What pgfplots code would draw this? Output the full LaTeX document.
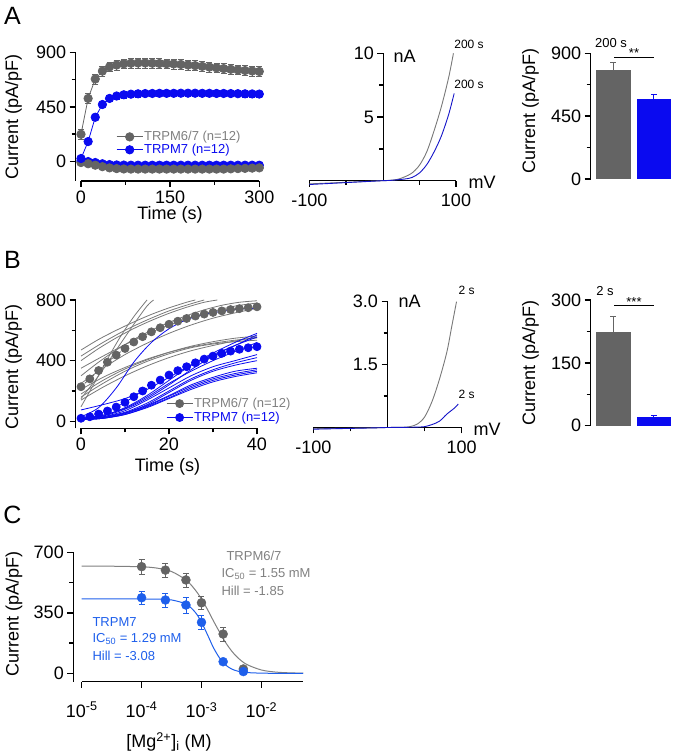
\documentclass[border=0pt]{standalone}
\usepackage{fontspec}
\setmainfont{Liberation Sans}
\usepackage{pgfplots}
\pgfplotsset{compat=1.18}
\usepackage{pgfplotstable}

\definecolor{dgray}{RGB}{100,100,100}
\definecolor{lgray}{RGB}{120,120,120}
\definecolor{tgray}{RGB}{128,128,128}
\definecolor{mblue}{RGB}{10,10,240}
\definecolor{ivblue}{RGB}{20,20,200}
\definecolor{cblue}{RGB}{30,95,235}
\newcommand{\fs}[1]{\fontsize{#1}{#1}\selectfont}

\pgfplotsset{
  prism/.style={
    scale only axis, anchor=south west,
    axis lines=left,
    axis line style={line width=1.5pt,-},
    every tick/.style={black,line width=1.5pt},
    major tick length=6pt, minor tick length=4pt,
    tick align=outside, tick pos=left,
    tick label style={font=\fs{18}},
    /pgf/number format/assume math mode=true,
    clip=false,
  },
  ebar/.style={/pgfplots/error bars/y dir=both, /pgfplots/error bars/y explicit,
    /pgfplots/error bars/error bar style={line width=0.6pt,#1},
    /pgfplots/error bars/error mark options={rotate=90,mark size=3pt,line width=0.6pt,#1}},
  legimg/.style={legend image code/.code={
    \draw[mark repeat=2,mark phase=2,##1,solid] plot coordinates {(0pt,0pt)(13pt,0pt)(26pt,0pt)};}},
}

% panel A, time course (t, current, sem)
\pgfplotstableread{
t v e
0 225 40
12 520 40
24 680 40
36 745 40
48 780 40
60 795 40
72 805 40
84 810 40
96 812 40
108 812 40
120 810 40
132 808 40
144 806 40
156 804 40
168 800 40
180 795 40
192 790 40
204 784 40
216 778 40
228 772 40
240 766 40
252 760 40
264 755 40
276 750 40
288 746 40
300 742 40
}\grayup
\pgfplotstableread{
t v e
0 25 10
12 165 20
24 365 25
36 470 25
48 520 25
60 540 25
72 550 25
84 555 25
96 558 25
108 560 25
120 561 25
132 562 25
144 562 25
156 562 25
168 563 25
180 563 25
192 563 25
204 562 25
216 562 25
228 561 25
240 561 25
252 560 25
264 559 25
276 558 25
288 557 25
300 556 25
}\blueup
\pgfplotstableread{
t v e
0 -8 6
12 -18 6
24 -30 8
36 -42 8
48 -52 8
60 -58 8
72 -61 8
84 -62 8
96 -62 8
108 -62 8
120 -62 8
132 -62 8
144 -62 8
156 -62 8
168 -62 8
180 -62 8
192 -62 8
204 -62 8
216 -62 8
228 -62 8
240 -62 8
252 -60 8
264 -58 8
276 -56 8
288 -54 8
300 -52 8
}\graydn
\pgfplotstableread{
t v e
0 5 5
12 0 5
24 -8 6
36 -18 6
48 -25 6
60 -28 6
72 -29 6
84 -30 6
96 -30 6
108 -30 6
120 -30 6
132 -30 6
144 -30 6
156 -30 6
168 -30 6
180 -30 6
192 -30 6
204 -30 6
216 -30 6
228 -30 6
240 -30 6
252 -30 6
264 -30 6
276 -30 6
288 -30 6
300 -30 6
}\bluedn

\begin{document}
\begin{tikzpicture}[x=1pt,y=1pt]
\path[use as bounding box] (0,0) rectangle (675,754);

% ---------------- A left
\begin{axis}[prism, at={(81pt,573pt)}, width=178.3pt, height=128.7pt,
  xmin=0, xmax=300, ymin=-160, ymax=900,
  xtick={0,150,300}, minor xtick={75,225},
  ytick={0,450,900}, minor ytick={225,675},
  axis y line shift=5.3pt, legimg, reverse legend,
  legend style={at={(0.18,0.41)}, anchor=north west, draw=none, fill=none,
    font=\fs{13}, row sep=0pt, nodes={inner sep=1pt}},
  legend cell align=left]
\addplot[mblue, line width=0.8pt, mark=*, mark size=4.2pt, ebar=mblue, forget plot]
  table[x=t,y=v,y error=e] {\bluedn};
\addplot[dgray, line width=0.8pt, mark=*, mark size=4.2pt, ebar=dgray, forget plot]
  table[x=t,y=v,y error=e] {\graydn};
\addplot[mblue, line width=0.8pt, mark=*, mark size=4.2pt, ebar=mblue]
  table[x=t,y=v,y error=e] {\blueup};
\addlegendentry[text=mblue]{TRPM7 (n=12)}
\addplot[dgray, line width=0.8pt, mark=*, mark size=4.2pt, ebar=dgray]
  table[x=t,y=v,y error=e] {\grayup};
\addlegendentry[text=tgray]{TRPM6/7 (n=12)}
\end{axis}

% ---------------- A middle (I-V), y axis moved to 0 mV
\begin{axis}[prism, at={(309.3pt,573.3pt)}, width=146.7pt, height=127.4pt,
  xmin=-100, xmax=100, ymin=0, ymax=10,
  axis y line shift=-74pt, xticklabel style={yshift=-4pt},
  xtick={-100,100}, minor xtick={-50,50},
  ytick={5,10}, minor ytick={2.5,7.5},
  xtick style={black,line width=1.5pt}, ytick style={black,line width=1.5pt}]
\addplot[lgray, line width=0.9pt, smooth] coordinates {
  (-100,-0.25)(-80,-0.2)(-60,-0.15)(-40,-0.1)(-20,-0.05)(0,0)(10,0.03)(20,0.1)
  (30,0.3)(40,0.6)(50,1.2)(60,2.25)(70,3.9)(80,5.8)(90,8.1)(96.5,10)};
\addplot[ivblue, line width=0.9pt, smooth] coordinates {
  (-100,-0.3)(-80,-0.24)(-60,-0.18)(-40,-0.12)(-20,-0.06)(0,0)(10,0.02)(20,0.07)
  (30,0.13)(40,0.25)(50,0.6)(60,1.25)(70,2.25)(80,3.5)(90,5.2)(97.5,6.85)};
\end{axis}

% ---------------- A right (bars)
\begin{axis}[prism, at={(590.7pt,575pt)}, width=81pt, height=125.7pt,
  axis x line=none, xmin=-0.557, xmax=1.438, ymin=0, ymax=900,
  xtick=\empty, ytick={0,450,900}, minor ytick={225,675}]
\addplot[ybar, bar width=34.7pt, bar shift=0pt, fill=dgray, draw=none,
  error bars/.cd, y dir=plus, y explicit, error bar style={dgray,line width=1pt},
  error mark options={rotate=90,mark size=3pt,dgray,line width=1pt}]
  coordinates {(0,780) +- (0,55)};
\addplot[ybar, bar width=34.7pt, bar shift=0pt, fill=mblue, draw=none,
  error bars/.cd, y dir=plus, y explicit, error bar style={mblue,line width=1pt},
  error mark options={rotate=90,mark size=3pt,mblue,line width=1pt}]
  coordinates {(1,570) +- (0,37)};
\end{axis}

% ---------------- B left
\begin{axis}[prism, at={(81pt,325.7pt)}, width=176pt, height=128.3pt,
  xmin=0, xmax=40, ymin=-46, ymax=800,
  xtick={0,20,40}, minor xtick={10,30},
  ytick={0,400,800}, minor ytick={200,600},
  axis y line shift=5.3pt, legimg,
  legend style={at={(0.466,0.26)}, anchor=north west, draw=none, fill=none,
    font=\fs{13}, row sep=1pt, nodes={inner sep=1pt}},
  legend cell align=left]
% individual TRPM6/7 cells
\addplot[lgray, line width=0.8pt, smooth, forget plot] coordinates {(0,470)(4,540)(8,600)(12,655)(16,705)(20,748)(24,785)(26,800)};
\addplot[lgray, line width=0.8pt, smooth, forget plot] coordinates {(0,400)(4,480)(8,550)(12,612)(16,665)(20,712)(24,752)(28,785)(31,800)};
\addplot[lgray, line width=0.8pt, smooth, forget plot] coordinates {(0,300)(4,390)(8,470)(12,540)(16,600)(20,652)(24,697)(28,735)(32,765)(36,785)(40,795)};
\addplot[lgray, line width=0.8pt, smooth, forget plot] coordinates {(0,250)(5,350)(10,440)(15,515)(20,580)(25,635)(30,680)(35,715)(40,745)};
\addplot[lgray, line width=0.8pt, smooth, forget plot] coordinates {(0,96)(3,250)(6,410)(9,560)(12,690)(15,800)};
\addplot[lgray, line width=0.8pt, smooth, forget plot] coordinates {(0,150)(4,300)(8,470)(12,640)(15,760)(16.5,800)};
\addplot[lgray, line width=0.8pt, smooth, forget plot] coordinates {(0,180)(5,270)(10,345)(15,405)(20,455)(25,495)(30,525)(35,548)(40,562)};
\addplot[lgray, line width=0.8pt, smooth, forget plot] coordinates {(0,210)(5,290)(10,355)(15,410)(20,455)(25,490)(30,515)(35,535)(40,550)};
\addplot[lgray, line width=0.8pt, smooth, forget plot] coordinates {(0,140)(5,225)(10,300)(15,365)(20,420)(25,465)(30,500)(35,530)(40,555)};
\addplot[lgray, line width=0.8pt, smooth, forget plot] coordinates {(0,350)(5,430)(10,505)(15,575)(20,635)(25,685)(30,725)(35,760)(40,780)};
\addplot[lgray, line width=0.8pt, smooth, forget plot] coordinates {(0,430)(5,520)(10,600)(15,668)(20,728)(25,775)(28,800)};
\addplot[lgray, line width=0.8pt, smooth, forget plot] coordinates {(0,160)(5,250)(10,330)(15,395)(20,445)(25,485)(30,510)(35,525)(40,535)};
% individual TRPM7 cells
\addplot[mblue, line width=0.8pt, smooth, forget plot] coordinates {(0,30)(4,90)(8,220)(12,390)(16,520)(20,610)(24,670)(28,705)(32,725)(36,740)(40,745)};
\addplot[mblue, line width=0.8pt, smooth, forget plot] coordinates {(0,75)(5,110)(10,150)(15,210)(20,290)(25,370)(30,440)(35,500)(40,570)};
\addplot[mblue, line width=0.8pt, smooth, forget plot] coordinates {(0,20)(5,40)(10,90)(15,170)(20,270)(25,370)(30,450)(35,520)(40,580)};
\addplot[mblue, line width=0.8pt, smooth, forget plot] coordinates {(0,15)(5,35)(10,80)(15,150)(20,240)(25,340)(30,430)(35,500)(40,555)};
\addplot[mblue, line width=0.8pt, smooth, forget plot] coordinates {(0,20)(5,40)(10,85)(15,160)(20,250)(25,330)(30,400)(35,460)(40,520)};
\addplot[mblue, line width=0.8pt, smooth, forget plot] coordinates {(0,15)(5,30)(10,70)(15,140)(20,220)(25,300)(30,360)(35,400)(40,440)};
\addplot[mblue, line width=0.8pt, smooth, forget plot] coordinates {(0,15)(5,30)(10,60)(15,120)(20,200)(25,280)(30,340)(35,385)(40,420)};
\addplot[mblue, line width=0.8pt, smooth, forget plot] coordinates {(0,10)(5,25)(10,55)(15,110)(20,190)(25,270)(30,330)(35,370)(40,400)};
\addplot[mblue, line width=0.8pt, smooth, forget plot] coordinates {(0,10)(5,25)(10,55)(15,105)(20,170)(25,240)(30,290)(35,330)(40,350)};
\addplot[mblue, line width=0.8pt, smooth, forget plot] coordinates {(0,10)(5,20)(10,50)(15,100)(20,165)(25,230)(30,280)(35,315)(40,340)};
\addplot[mblue, line width=0.8pt, smooth, forget plot] coordinates {(0,10)(5,20)(10,45)(15,95)(20,155)(25,220)(30,270)(35,305)(40,330)};
\addplot[mblue, line width=0.8pt, smooth, forget plot] coordinates {(0,10)(5,20)(10,45)(15,90)(20,150)(25,210)(30,260)(35,295)(40,320)};
% means
\addplot[dgray, line width=0.8pt, densely dashed, mark=*, mark size=4pt, mark options={solid}] coordinates {
  (0,228)(2,280)(4,335)(6,390)(8,437)(10,480)(12,523)(14,558)(16,590)(18,617)(20,640)
  (22,660)(24,678)(26,694)(28,707)(30,718)(32,728)(34,737)(36,743)(38,749)(40,755)};
\addlegendentry[text=tgray]{TRPM6/7 (n=12)}
\addplot[mblue, line width=0.8pt, densely dashed, mark=*, mark size=4pt, mark options={solid}] coordinates {
  (0,20)(2,30)(4,48)(6,68)(8,94)(10,125)(12,162)(14,200)(16,238)(18,272)(20,305)
  (22,334)(24,360)(26,386)(28,410)(30,430)(32,448)(34,463)(36,475)(38,485)(40,492)};
\addlegendentry[text=mblue]{TRPM7 (n=12)}
\end{axis}

% ---------------- B middle (I-V), y axis moved to 0 mV
\begin{axis}[prism, at={(313.3pt,326.5pt)}, width=148.4pt, height=125.8pt,
  xmin=-100, xmax=100, ymin=0, ymax=3,
  axis y line shift=-74.2pt, xticklabel style={yshift=-4pt},
  xtick={-100,100}, minor xtick={-50,50},
  ytick={1.5,3}, yticklabels={1.5,3.0}, minor ytick={0.75,2.25},
  xtick style={black,line width=1.5pt}, ytick style={black,line width=1.5pt}]
\addplot[lgray, line width=0.9pt, smooth] coordinates {
  (-100,-0.03)(-60,-0.02)(-20,-0.01)(0,0)(20,0.005)(30,0.02)(40,0.08)(50,0.25)
  (60,0.62)(70,1.15)(80,1.8)(86.5,2.4)(93,3.0)};
\addplot[ivblue, line width=0.9pt, smooth] coordinates {
  (-100,-0.04)(-60,-0.025)(-20,-0.01)(0,0)(30,0.005)(40,0.01)(50,0.02)(60,0.07)
  (70,0.15)(80,0.32)(90,0.46)(95.4,0.56)};
\end{axis}

% ---------------- B right (bars)
\begin{axis}[prism, at={(590.7pt,328.3pt)}, width=81pt, height=125.7pt,
  axis x line=none, xmin=-0.557, xmax=1.438, ymin=0, ymax=300,
  xtick=\empty, ytick={0,150,300}, minor ytick={75,225}]
\addplot[ybar, bar width=34.7pt, bar shift=0pt, fill=dgray, draw=none,
  error bars/.cd, y dir=plus, y explicit, error bar style={dgray,line width=1pt},
  error mark options={rotate=90,mark size=3pt,dgray,line width=1pt}]
  coordinates {(0,224) +- (0,36)};
\addplot[ybar, bar width=34.7pt, bar shift=0pt, fill=mblue, draw=none,
  error bars/.cd, y dir=plus, y explicit, error bar style={mblue,line width=1pt},
  error mark options={rotate=90,mark size=3pt,mblue,line width=1pt}]
  coordinates {(1,20) +- (0,5)};
\end{axis}

% ---------------- C dose response
\begin{axis}[prism, at={(81.7pt,72.3pt)}, width=221.6pt, height=129.4pt,
  xmode=log, xmin=1e-5, xmax=0.0501, ymin=-48.6, ymax=700,
  xtick={1e-5,1e-4,1e-3,1e-2}, xminorticks=false,
  xticklabels={10\textsuperscript{-5},10\textsuperscript{-4},10\textsuperscript{-3},10\textsuperscript{-2}},
  xticklabel style={yshift=-11pt},
  ytick={0,350,700}, minor ytick={175,525}, axis y line shift=8.4pt]
\addplot[tgray, line width=1pt, smooth] coordinates {
  (1e-5,620)(3.16e-5,619.5)(1e-4,616.1)(1.78e-4,608.9)(3.16e-4,588.9)(5.62e-4,537.5)
  (7.94e-4,480.5)(1e-3,429.3)(1.26e-3,369.1)(1.58e-3,303.6)(2e-3,238.8)(2.51e-3,180.1)
  (3.16e-3,130.8)(3.98e-3,92.2)(5.62e-3,52.3)(1e-2,19.1)(1.78e-2,6.7)(3.16e-2,2.3)(5e-2,1.0)};
\addplot[cblue, line width=1pt, smooth] coordinates {
  (1e-5,430)(3.16e-5,430)(1e-4,429.8)(1.78e-4,429)(3.16e-4,424.4)(5.62e-4,399.1)
  (7.94e-4,351.3)(1e-3,295.3)(1.26e-3,223.1)(1.58e-3,149)(2e-3,89)(2.51e-3,48.9)
  (3.16e-3,25.6)(3.98e-3,13)(5.62e-3,4.6)(1e-2,0.8)(1.78e-2,0.1)(5e-2,0)};
\addplot[only marks, dgray, mark=*, mark size=4.5pt, ebar=dgray] coordinates {
  (1e-4,617) +- (0,45) (2.5e-4,597) +- (0,42) (5.5e-4,540) +- (0,40)
  (1e-3,408) +- (0,39) (2.3e-3,227) +- (0,42) (5e-3,25) +- (0,8)};
\addplot[only marks, cblue, mark=*, mark size=4.5pt, ebar=cblue] coordinates {
  (1e-4,437) +- (0,40) (2.5e-4,424) +- (0,40) (5.5e-4,395) +- (0,46)
  (1e-3,295) +- (0,40) (2.3e-3,67) +- (0,8) (5e-3,10) +- (0,5)};
\end{axis}

% ---------------- labels
\node[font=\fs{25}] at (12.5,738.5) {A};
\node[font=\fs{25}] at (12.5,494.3) {B};
\node[font=\fs{25}] at (12.5,239) {C};

\node[rotate=90,font=\fs{18}] at (13.5,637) {Current (pA/pF)};
\node[rotate=90,font=\fs{18}] at (530.5,643) {Current (pA/pF)};
\node[rotate=90,font=\fs{18}] at (13.5,387) {Current (pA/pF)};
\node[rotate=90,font=\fs{18}] at (530.5,391) {Current (pA/pF)};
\node[rotate=90,font=\fs{18}] at (14,140) {Current (pA/pF)};

\node[font=\fs{18}] at (170,539) {Time (s)};
\node[font=\fs{18}] at (167.5,287) {Time (s)};
\node[font=\fs{18}] at (169,12) {[Mg\textsuperscript{2+}]\textsubscript{i} (M)};

\node[anchor=west,font=\fs{18}] at (390,698) {nA};
\node[anchor=west,font=\fs{18}] at (465,572) {mV};
\node[font=\fs{12}] at (469,710) {200 s};
\node[font=\fs{12}] at (469,670) {200 s};

\node[anchor=west,font=\fs{18}] at (395,452.3) {nA};
\node[anchor=west,font=\fs{18}] at (470,325) {mV};
\node[font=\fs{12}] at (466.7,464) {2 s};
\node[font=\fs{12}] at (466.7,360) {2 s};

\node[font=\fs{13}] at (611,711) {200 s};
\draw[line width=1pt] (614,696.7) -- (654,696.7);
\node[font=\fs{13},anchor=base] at (634,696) {**};
\node[font=\fs{13}] at (605,463.3) {2 s};
\draw[line width=1pt] (614,448) -- (654,448);
\node[font=\fs{13},anchor=base] at (634,447) {***};

\node[anchor=west,font=\fs{13},text=tgray] at (223,198) {TRPM6/7};
\node[anchor=west,font=\fs{13},text=tgray] at (218,180) {IC\textsubscript{50} = 1.55 mM};
\node[anchor=west,font=\fs{13},text=tgray] at (218,163) {Hill = -1.85};
\node[anchor=west,font=\fs{13},text=cblue] at (89,132.3) {TRPM7};
\node[anchor=west,font=\fs{13},text=cblue] at (89,114.7) {IC\textsubscript{50} = 1.29 mM};
\node[anchor=west,font=\fs{13},text=cblue] at (89,98) {Hill = -3.08};
\end{tikzpicture}
\end{document}
